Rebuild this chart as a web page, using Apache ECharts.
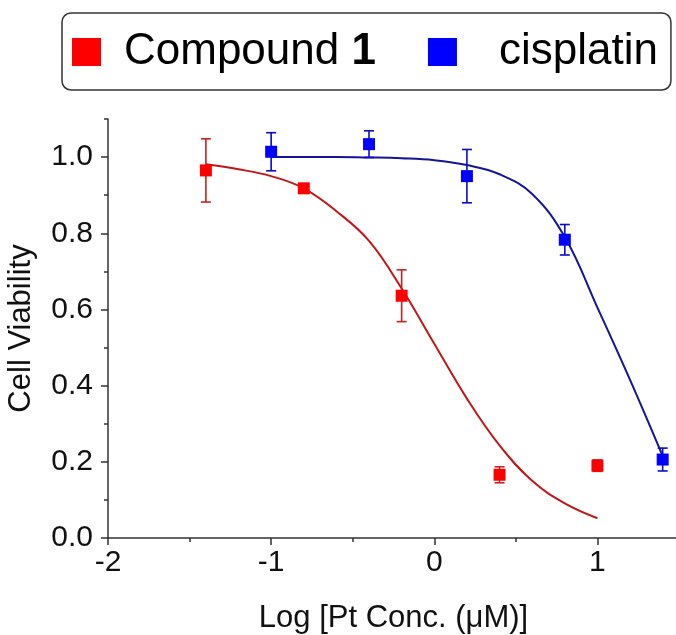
<!DOCTYPE html>
<html>
<head>
<meta charset="utf-8">
<script src="https://cdn.jsdelivr.net/npm/echarts@6/dist/echarts.min.js"></script>
<style>
  html, body { margin: 0; padding: 0; background: #fff; }
</style>
</head>
<body>
<div id="myChart" style="width: 676px;height:635px;"></div>
<script>
// measured points (mean and error)
var compoundX = [-1.4, -0.8, -0.2, 0.4, 1.0];
var compoundY = [0.965, 0.918, 0.636, 0.166, 0.190];
var compoundErr = [0.083, 0.010, 0.068, 0.021, 0.015];

var cisplatinX = [-1.0, -0.4, 0.2, 0.8, 1.4];
var cisplatinY = [1.014, 1.034, 0.950, 0.783, 0.206];
var cisplatinErr = [0.050, 0.035, 0.070, 0.040, 0.030];

// fitted curves
var compoundFitX = [-1.4, -1.2, -1.0, -0.8, -0.6, -0.4, -0.2, 0.0, 0.2, 0.4, 0.6, 0.8, 1.0];
var compoundFitY = [0.981, 0.968, 0.950, 0.918, 0.858, 0.780, 0.655, 0.510, 0.366, 0.243, 0.150, 0.091, 0.052];
var cisplatinFitX = [-1.0, -0.8, -0.6, -0.4, -0.2, 0.0, 0.2, 0.4, 0.6, 0.8, 1.0, 1.2, 1.4];
var cisplatinFitY = [1.000, 1.000, 1.000, 0.999, 0.997, 0.992, 0.979, 0.955, 0.903, 0.790, 0.605, 0.415, 0.215];

// ticks
var xTickLabels = [-2, -1, 0, 1];
var xMinorTicks = [-1.5, -0.5, 0.5];
var yTickLabels = [0, 0.2, 0.4, 0.6, 0.8, 1.0];
var yMinorTicks = [0.1, 0.3, 0.5, 0.7, 0.9, 1.1];

function zip(xs, ys, es) {
  return xs.map(function (x, i) { return es ? [x, ys[i], es[i]] : [x, ys[i]]; });
}

function errorBar(color) {
  return function (params, api) {
    var x = api.value(0), y = api.value(1), e = api.value(2);
    var top = api.coord([x, y + e]);
    var bot = api.coord([x, y - e]);
    var w = 5;
    var style = { stroke: color, lineWidth: 1.6, fill: null };
    return {
      type: 'group',
      children: [
        { type: 'line', shape: { x1: top[0], y1: top[1], x2: bot[0], y2: bot[1] }, style: style },
        { type: 'line', shape: { x1: top[0] - w, y1: top[1], x2: top[0] + w, y2: top[1] }, style: style },
        { type: 'line', shape: { x1: bot[0] - w, y1: bot[1], x2: bot[0] + w, y2: bot[1] }, style: style }
      ]
    };
  };
}

var axisColor = '#333';
var font = 'Liberation Sans, Arial, sans-serif';

var myChart = echarts.init(document.getElementById('myChart'));
var option = {
  animation: false,
  textStyle: { fontFamily: font },
  grid: {
    left: 108, right: -3, top: 119, bottom: 97,
    containLabel: false, outerBoundsMode: 'none'
  },
  legend: {
    left: 62, top: 13,
    padding: [17, 13, 16, 10],
    borderColor: '#333', borderWidth: 1.5, borderRadius: 9,
    icon: 'rect', itemWidth: 29, itemHeight: 28, itemGap: 52,
    data: ['Compound 1', 'cisplatin'],
    formatter: function (name) {
      return name === 'cisplatin' ? '{c|cisplatin}' : '{a|Compound }{b|1}';
    },
    textStyle: {
      fontFamily: font, fontSize: 44, color: '#000',
      rich: {
        a: { fontFamily: font, fontSize: 44, color: '#000', padding: [0, 0, 0, 18] },
        b: { fontFamily: font, fontSize: 44, color: '#000', fontWeight: 'bold' },
        c: { fontFamily: font, fontSize: 44, color: '#000', padding: [0, 0, 0, 37] }
      }
    }
  },
  xAxis: [{
    type: 'value', min: -2, max: 1.5, interval: 0.5,
    name: 'Log [Pt Conc. (\u03bcM)]', nameLocation: 'middle', nameGap: 65,
    nameTextStyle: { fontFamily: font, fontSize: 31, color: '#111' },
    axisLine: { onZero: false, lineStyle: { color: axisColor, width: 1.5 } },
    axisTick: { customValues: xTickLabels, length: 7, lineStyle: { color: axisColor, width: 1.5 } },
    axisLabel: {
      customValues: xTickLabels, margin: 10,
      fontFamily: font, fontSize: 30, color: '#111',
      formatter: function (v) { return String(v); }
    },
    splitLine: { show: false }
  }, {
    type: 'value', min: -2, max: 1.5, position: 'bottom', offset: 0,
    axisLine: { show: false, onZero: false },
    axisTick: { customValues: xMinorTicks, length: 4, lineStyle: { color: axisColor, width: 1.5 } },
    axisLabel: { show: false },
    splitLine: { show: false }
  }],
  yAxis: [{
    type: 'value', min: 0, max: 1.1, interval: 0.1,
    name: 'Cell Viability', nameLocation: 'middle', nameGap: 71,
    nameTextStyle: { fontFamily: font, fontSize: 31, color: '#111' },
    axisLine: { show: true, onZero: false, lineStyle: { color: axisColor, width: 1.5 } },
    axisTick: { show: true, customValues: yTickLabels, length: 7, lineStyle: { color: axisColor, width: 1.5 } },
    axisLabel: {
      customValues: yTickLabels, margin: 15,
      fontFamily: font, fontSize: 30, color: '#111',
      formatter: function (v) { return v.toFixed(1); }
    },
    splitLine: { show: false }
  }, {
    type: 'value', min: 0, max: 1.1, position: 'left', offset: 0,
    axisLine: { show: false, onZero: false },
    axisTick: { show: true, customValues: yMinorTicks, length: 4, lineStyle: { color: axisColor, width: 1.5 } },
    axisLabel: { show: false },
    splitLine: { show: false }
  }],
  series: [
    {
      name: 'Compound 1 fit', type: 'line', smooth: 0.4, showSymbol: false,
      lineStyle: { color: '#c01818', width: 2 },
      data: zip(compoundFitX, compoundFitY), z: 2
    },
    {
      name: 'cisplatin fit', type: 'line', smooth: 0.4, showSymbol: false,
      lineStyle: { color: '#14149a', width: 2 },
      data: zip(cisplatinFitX, cisplatinFitY), z: 2
    },
    {
      name: 'Compound 1 err', type: 'custom', renderItem: errorBar('#cc2020'),
      data: zip(compoundX, compoundY, compoundErr), z: 3
    },
    {
      name: 'cisplatin err', type: 'custom', renderItem: errorBar('#0a0ad0'),
      data: zip(cisplatinX, cisplatinY, cisplatinErr), z: 3
    },
    {
      name: 'Compound 1', type: 'scatter', symbol: 'rect', symbolSize: 12,
      itemStyle: { color: '#ff0000', opacity: 1 },
      data: zip(compoundX, compoundY), z: 4
    },
    {
      name: 'cisplatin', type: 'scatter', symbol: 'rect', symbolSize: 12,
      itemStyle: { color: '#0000ff', opacity: 1 },
      data: zip(cisplatinX, cisplatinY), z: 4
    }
  ]
};
myChart.setOption(option);
</script>
</body>
</html>
